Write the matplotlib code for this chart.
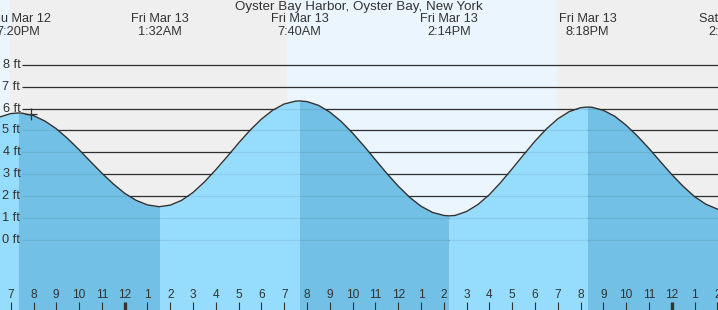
import numpy as np
import matplotlib.pyplot as plt

plt.rcParams['font.family'] = ['Liberation Sans', 'DejaVu Sans']

title = "Oyster Bay Harbor, Oyster Bay, New York"

# high / low tides, hours counted from Thu Mar 12 00:00
ext_time = [19.33, 25.53, 31.67, 38.23, 44.30, 50.55]
ext_height = [5.80, 1.52, 6.35, 1.10, 6.07, 1.33]
ext_day = ["Thu Mar 12", "Fri Mar 13", "Fri Mar 13", "Fri Mar 13", "Fri Mar 13", "Sat Mar 14"]
ext_clock = ["7:20PM", "1:32AM", "7:40AM", "2:14PM", "8:18PM", "2:33AM"]

# tide height (ft) read every half hour, starting 6:30PM Mar 12
sample_start = 18.5
sample_step = 0.5
height = [5.61, 5.77, 5.79, 5.68, 5.43, 5.08, 4.63, 4.12, 3.58, 3.05,
          2.56, 2.13, 1.81, 1.60, 1.52, 1.59, 1.81, 2.17, 2.65, 3.21,
          3.81, 4.43, 5.01, 5.52, 5.93, 6.21, 6.34, 6.32, 6.15, 5.84,
          5.41, 4.88, 4.29, 3.66, 3.04, 2.46, 1.95, 1.54, 1.26, 1.12,
          1.12, 1.30, 1.62, 2.07, 2.63, 3.25, 3.89, 4.51, 5.07, 5.53,
          5.86, 6.04, 6.06, 5.92, 5.65, 5.24, 4.74, 4.18, 3.58, 2.99,
          2.45, 1.98, 1.63, 1.41, 1.33]

# sunset / sunrise / sunset
sun_times = [18.97, 31.11, 42.97]
now_time, now_height = 19.89, 5.75

ft_levels = list(range(0, 9))
hours = list(range(19, 51))

grey = '#efefef'
day_blue = '#eaf5fe'
water_rise = '#96dcfd'
water_fall = '#72c0e5'
ink = '#333333'

t = sample_start + sample_step * np.arange(len(height))
h = np.array(height)
# put the extremes in the curve as well
inside = [i for i, e in enumerate(ext_time) if t[0] < e < t[-1]]
t = np.concatenate([t, [ext_time[i] for i in inside]])
h = np.concatenate([h, [ext_height[i] for i in inside]])
order = np.argsort(t)
t, h = t[order], h[order]

xmin, xmax = 18.53, 50.03
ymin, ymax = -3.2, 10.96

fig = plt.figure(figsize=(7.18, 3.10), dpi=100)
ax = fig.add_axes([0, 0, 1, 1])
ax.set_xlim(xmin, xmax)
ax.set_ylim(ymin, ymax)
ax.axis('off')

# night / day background
ax.axvspan(xmin, xmax, color=grey, lw=0, zorder=0)
ax.axvspan(xmin, sun_times[0], color=day_blue, lw=0, zorder=0)
ax.axvspan(sun_times[1], sun_times[2], color=day_blue, lw=0, zorder=0)

# grid lines, dark above the water, faint below
ax.hlines(ft_levels, 19.48, xmax, color=ink, lw=0.9, zorder=0.5)
ax.hlines(ft_levels, 19.48, xmax, color=(0, 0, 0, 0.07), lw=0.9, zorder=1.5)

# water: light when rising, darker when falling
edges = [t[0]] + [ext_time[i] for i in inside] + [t[-1]]
for a, b in zip(edges[:-1], edges[1:]):
    m = (t >= a) & (t <= b)
    rising = h[m][-1] > h[m][0]
    ax.fill_between(t, h, ymin, where=m, color=water_rise if rising else water_fall,
                    lw=0, zorder=1)

ax.plot(t, h, color=ink, lw=1.0, zorder=3)
ax.plot([now_time], [now_height], marker='+', ms=9, mew=0.9, color=ink, zorder=4)

for lv in ft_levels:
    ax.text(19.42, lv, f"{lv} ft", ha='right', va='center', fontsize=9.2, color=ink, zorder=5)

ax.text((xmin + xmax) / 2, 10.62, title, ha='center', va='center', fontsize=9.6, color=ink)
for et, d, c in zip(ext_time, ext_day, ext_clock):
    ax.text(et, 10.07, d, ha='center', va='center', fontsize=9.2, color=ink)
    ax.text(et, 9.50, c, ha='center', va='center', fontsize=9.2, color=ink)

for hr in hours:
    ax.text(hr, -2.52, str((hr - 1) % 12 + 1), ha='center', va='center', fontsize=8.6, color=ink, zorder=5)
    ax.vlines(hr, ymin, -2.83, color=ink, lw=2.4 if hr % 24 == 0 else 0.8, zorder=5)

fig.savefig('out.png', dpi=100)
